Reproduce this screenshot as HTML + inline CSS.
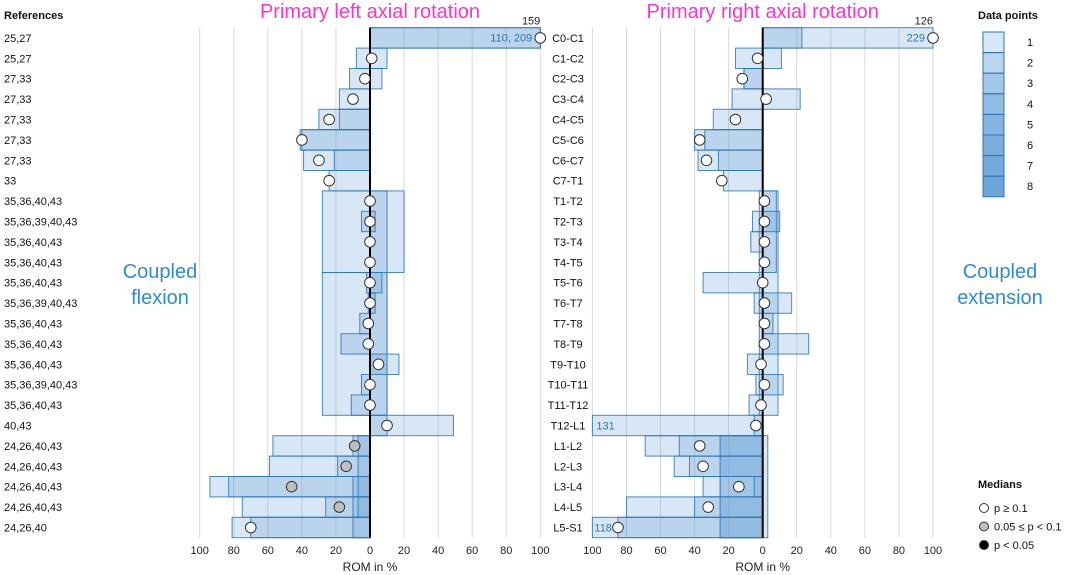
<!DOCTYPE html>
<html><head><meta charset="utf-8"><style>
body{margin:0;background:#fff;}
svg{display:block;font-family:"Liberation Sans",Arial,sans-serif;}
</style></head><body>
<svg id="c" width="1065" height="575"></svg>
<script>
const segments=["C0-C1","C1-C2","C2-C3","C3-C4","C4-C5","C5-C6","C6-C7","C7-T1","T1-T2","T2-T3","T3-T4","T4-T5","T5-T6","T6-T7","T7-T8","T8-T9","T9-T10","T10-T11","T11-T12","T12-L1","L1-L2","L2-L3","L3-L4","L4-L5","L5-S1"];
const references=["25,27","25,27","27,33","27,33","27,33","27,33","27,33","33","35,36,40,43","35,36,39,40,43","35,36,40,43","35,36,40,43","35,36,40,43","35,36,39,40,43","35,36,40,43","35,36,40,43","35,36,40,43","35,36,39,40,43","35,36,40,43","40,43","24,26,40,43","24,26,40,43","24,26,40,43","24,26,40,43","24,26,40"];
// ranges: [firstRow, lastRow, from%, to%]
const leftRanges=[[0,0,0,100],[0,0,0,100],[1,1,-8,10],[2,2,-12,7],[3,3,-18,0],[4,4,-30,0],[4,4,-18,0],[5,5,-41,0],[5,5,-40,0],[6,6,-39,0],[6,6,-21,0],[7,7,-24,0],
[8,11,-28,20],[12,18,-28,10],[8,18,0,10],[9,9,-5,3],[12,12,-2,7],[13,13,-1,3],[14,14,-6,0],[15,15,-17,0],[16,16,0,17],[17,17,-5,0],[18,18,-11,0],
[19,19,0,49],[19,19,0,10],[20,20,-57,0],[20,20,-10,0],[20,20,-7,0],[21,21,-59,0],[21,21,-19,0],[21,21,-7,0],[22,22,-94,0],[22,22,-83,0],[22,22,-10,0],[22,22,-7,0],[23,23,-75,0],[23,23,-26,0],[23,23,-10,0],[23,23,-7,0],[24,24,-81,0],[24,24,-70,0],[24,24,-10,0]];
const leftMedians=[100,1,-3,-10,-24,-40,-30,-24,0,0,0,0,0,0,-1,-1,5,0,0,10,-9,-14,-46,-18,-70];
const leftSig=[0,0,0,0,0,0,0,0,0,0,0,0,0,0,0,0,0,0,0,0,1,1,1,1,0];
const rightRanges=[[0,0,0,100],[0,0,0,23],[1,1,-16,11],[2,2,-11,0],[2,2,-11,0],[3,3,-18,22],[4,4,-29,0],[5,5,-40,0],[5,5,-34,0],[6,6,-38,0],[6,6,-26,0],[7,7,-23,0],
[8,18,-2,9],[8,11,0,8],[9,9,-6,10],[10,10,-7,0],[12,12,-35,0],[13,13,-5,17],[14,14,0,6],[15,15,0,27],[16,16,-9,0],[17,17,-4,12],[18,18,-8,0],
[19,19,-100,0],[19,19,-5,0],[20,24,-25,3],[20,24,-25,0],[20,20,-69,0],[20,20,-49,0],[21,21,-52,0],[21,21,-43,0],[22,22,-35,0],[22,22,-5,0],[23,23,-80,0],[23,23,-40,0],[24,24,-100,0],[24,24,-85,0]];
const rightMedians=[100,-3,-12,2,-16,-37,-33,-24,1,1,1,1,0,1,1,1,-1,1,-1,-4,-37,-35,-14,-32,-85];
const tickLabels=["100","80","60","40","20","0","20","40","60","80","100"];
const legendCounts=[1,2,3,4,5,6,7,8];

const NS="http://www.w3.org/2000/svg",svg=document.getElementById('c');
function mk(t,a,p){const e=document.createElementNS(NS,t);for(const k in a)e.setAttribute(k,a[k]);(p||svg).appendChild(e);return e;}
const TOP=27.7,RH=20.4,SC=1.703;
const rowY=i=>TOP+i*RH;
function panel(zero,ranges,meds,sig,name,title,labels){
  const g=mk('g',{});
  
  
  const X=v=>zero+v*SC;
  for(let k=0;k<=10;k++){const v=-100+k*20;const gl=mk('line',{x1:X(v),x2:X(v),y1:TOP,y2:rowY(25),stroke:'#d9d9d9','stroke-width':1},g);
    
    const t=mk('text',{x:X(v),y:554,'font-size':11,'text-anchor':'middle',fill:'#222'},g);t.textContent=tickLabels[k];
    }
  for(const r of ranges){const a=Math.min(r[2],r[3]),b=Math.max(r[2],r[3]);
    const re=mk('rect',{x:X(a),y:rowY(r[0]),width:(b-a)*SC,height:(r[1]-r[0]+1)*RH,fill:'rgba(91,155,213,0.24)',stroke:'#2e75b6','stroke-width':1,'stroke-opacity':0.85},g);
    }
  const zl=mk('line',{x1:X(0),x2:X(0),y1:TOP,y2:rowY(25),stroke:'#000','stroke-width':2},g);
  
  meds.forEach((m,i)=>{const c=mk('circle',{cx:X(m),cy:rowY(i)+RH/2,r:5.3,fill:sig[i]?'#bfbfbf':'#fff',stroke:'#333','stroke-width':1},g);
    });
  const t=mk('text',{x:X(0),y:18,'font-size':20,'text-anchor':'middle',fill:'#ff33cc'},g);t.textContent=title;
  
  const xt=mk('text',{x:X(0),y:571,'font-size':12,'text-anchor':'middle',fill:'#222'},g);xt.textContent='ROM in %';
  
  for(const L of labels){const e=mk('text',{x:X(L[0])+L[1],y:rowY(L[2])+L[3],'font-size':L[5]||11,'text-anchor':L[4],fill:L[6]||'#2e75b6'},g);e.textContent=L[7];
    }
}
const sigR=rightMedians.map(()=>0);
panel(370,leftRanges,leftMedians,leftSig,'left-rotation-panel','Primary left axial rotation',
 [[100,-8,0,14,'end',11,'#2e75b6','110, 209'],[100,0,0,-3,'end',11,'#222','159']]);
panel(762.7,rightRanges,rightMedians,sigR,'right-rotation-panel','Primary right axial rotation',
 [[100,-8,0,14,'end',11,'#2e75b6','229'],[100,0,0,-3,'end',11,'#222','126'],[-100,4,19,14,'start',11,'#2e75b6','131'],[-100,2,24,14,'start',11,'#2e75b6','118']]);
segments.forEach((s,i)=>{const t=mk('text',{x:568,y:rowY(i)+RH/2+4,'font-size':11,'text-anchor':'middle',fill:'#111'});t.textContent=s;
  });
const rh=mk('text',{x:4,y:19,'font-size':11,'font-weight':'bold',fill:'#111'});rh.textContent='References';

references.forEach((s,i)=>{const t=mk('text',{x:4,y:rowY(i)+RH/2+4,'font-size':11,fill:'#111'});t.textContent=s;
  });
[[160,'Coupled',278],[160,'flexion',304],[1000,'Coupled',278],[1000,'extension',304]].forEach(a=>{const t=mk('text',{x:a[0],y:a[2],'font-size':20,'text-anchor':'middle',fill:'#2e8bdb'});t.textContent=a[1];
  });
const dp=mk('text',{x:978,y:19,'font-size':11,'font-weight':'bold',fill:'#111'});dp.textContent='Data points';

legendCounts.forEach((n,i)=>{const a=1-Math.pow(0.76,n);const y=32+i*20.6;
  const r=mk('rect',{x:983,y:y,width:21,height:20.6,fill:`rgba(91,155,213,${a.toFixed(3)})`,stroke:'#2e75b6','stroke-width':1});
  
  const t=mk('text',{x:1030,y:y+14,'font-size':11,'text-anchor':'middle',fill:'#111'});t.textContent=n;
  });
const mt=mk('text',{x:978,y:488,'font-size':11,'font-weight':'bold',fill:'#111'});mt.textContent='Medians';

[['#fff','p ≥ 0.1'],['#bfbfbf','0.05 ≤ p < 0.1'],['#000','p < 0.05']].forEach((m,i)=>{const y=508+i*18.5;
  const c=mk('circle',{cx:984,cy:y,r:4.5,fill:m[0],stroke:'#333'});
  const t=mk('text',{x:994,y:y+4,'font-size':11,fill:'#111'});t.textContent=m[1];});
</script>
</body></html>
